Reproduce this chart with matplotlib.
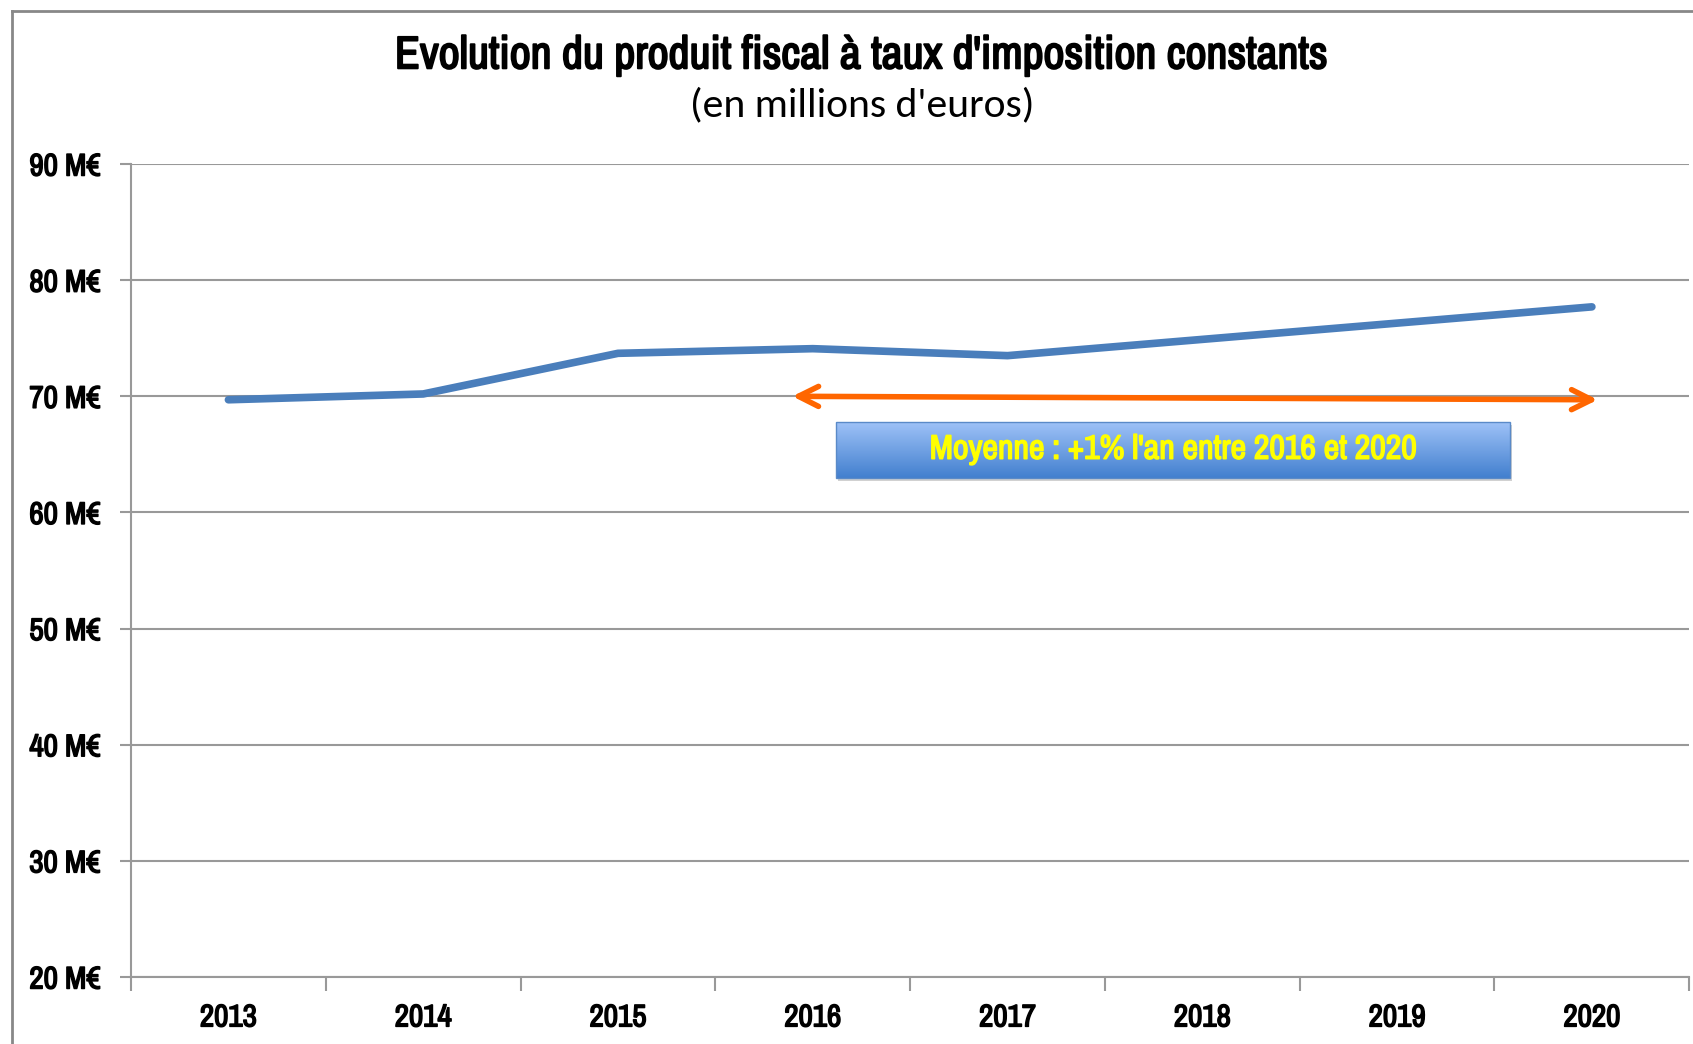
import numpy as np
import matplotlib
matplotlib.use("Agg")
import matplotlib.pyplot as plt
import matplotlib.patheffects as pe
from matplotlib.lines import Line2D
from matplotlib.patches import Rectangle

# data
years = ["2013", "2014", "2015", "2016", "2017", "2018", "2019", "2020"]
produit = [69.7, 70.2, 73.7, 74.1, 73.5, 74.9, 76.3, 77.7]
yticks = [20, 30, 40, 50, 60, 70, 80, 90]
note = "Moyenne : +1% l'an entre 2016 et 2020"

narrow = ['Arial Narrow', 'Liberation Sans Narrow', 'Archivo Narrow',
          'PT Sans Narrow', 'Roboto Condensed', 'Asap Condensed', 'DejaVu Sans']
calibri = ['Carlito', 'Lato', 'DejaVu Sans']

# narrow font only has a regular face here -> thicken it with a stroke
def heavy(color, w=1.1):
    return [pe.withStroke(linewidth=w, foreground=color)]

fig = plt.figure(figsize=(16.93, 10.44), dpi=100)
ax = fig.add_axes([0.0774, 0.0642, 0.9204, 0.7787])

x = np.arange(len(years))
ax.plot(x, produit, color="#4A7EBB", lw=5.5, solid_capstyle="round",
        solid_joinstyle="round", zorder=3)

# y axis
ax.set_yticks(yticks)
ax.set_yticklabels([f"{v} M€" for v in yticks], family=narrow,
                   fontsize=22.5, path_effects=heavy("black"))
ax.yaxis.grid(True, color="#999999", lw=1.5)
ax.tick_params(axis="y", length=8, width=1.5, color="#999999", pad=14)

# x axis: ticks between categories, labels centered
ax.set_xticks(np.arange(-0.5, len(years), 1.0))
ax.set_xticklabels([])
ax.set_xticks(x, minor=True)
ax.set_xticklabels(years, minor=True, family=narrow, fontsize=22.5,
                   path_effects=heavy("black"))
ax.tick_params(axis="x", which="major", length=10, width=1.5,
               color="#999999", direction="out")
ax.tick_params(axis="x", which="minor", length=0, pad=19)

for s in ["top", "right"]:
    ax.spines[s].set_visible(False)
for s in ["left", "bottom"]:
    ax.spines[s].set_color("#999999")
    ax.spines[s].set_linewidth(1.5)
ax.set_axisbelow(True)

# orange double arrow
ax.annotate("", xy=(2.895, 70.0), xytext=(7.03, 69.7),
            arrowprops=dict(arrowstyle="<->", color="#FF6600", lw=4,
                            mutation_scale=36,
                            shrinkA=0, shrinkB=0), zorder=4)

# gradient box with shadow
bx0, bx1, by0, by1 = 3.12, 6.58, 63.0, 67.8
ax.add_patch(Rectangle((bx0 + 0.01, by0 - 0.3), bx1 - bx0, by1 - by0,
                       color="#000000", alpha=0.18, lw=0, zorder=4))
t = np.linspace(0, 1, 100)[:, None, None]
top = np.array([0.62, 0.76, 0.97])
bot = np.array([0.26, 0.50, 0.81])
img = top + (bot - top) * t
ax.imshow(img, extent=[bx0, bx1, by0, by1], origin="upper",
          aspect="auto", zorder=5)
ax.add_patch(Rectangle((bx0, by0), bx1 - bx0, by1 - by0, fill=False,
                       ec="#5A8AC8", lw=1, zorder=6))
ax.text((bx0 + bx1) / 2, (by0 + by1) / 2, note, color="#FFFF00",
        family=narrow, fontsize=24.5, ha="center", va="center", zorder=7,
        path_effects=heavy("#FFFF00"))
ax.set_xlim(-0.5, len(years) - 0.5)
ax.set_ylim(20, 90)

# titles
fig.text(0.509, 0.947, "Evolution du produit fiscal à taux d'imposition constants",
         ha="center", va="center", family=narrow, fontsize=33,
         path_effects=heavy("black", 1.4))
fig.text(0.509, 0.899, "(en millions d'euros)", ha="center", va="center",
         family=calibri, fontsize=30)

# chart-area frame
fig.add_artist(Line2D([0.0071, 0.0071], [0, 0.9895], color="#888888", lw=2,
                      transform=fig.transFigure))
fig.add_artist(Line2D([0.0071, 1.0], [0.9895, 0.9895], color="#888888", lw=2,
                      transform=fig.transFigure))

fig.savefig("out.png", dpi=100)
